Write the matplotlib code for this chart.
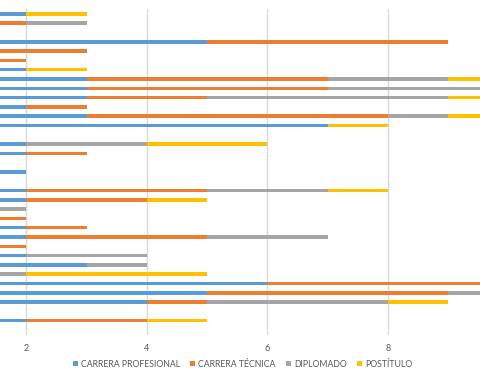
import matplotlib
matplotlib.use("Agg")
import matplotlib.pyplot as plt
from matplotlib.patches import Patch
import numpy as np

plt.rcParams['font.family'] = ['Lato', 'DejaVu Sans']

# rows top to bottom, 0 = empty row
profesional = [2, 0, 0, 5, 0, 0, 2, 3, 3, 3, 2, 3, 7, 0, 2, 2, 0, 2, 0, 2, 2, 0, 0, 2, 2, 0, 2, 3, 0, 6, 5, 4, 0, 2, 0]
tecnica     = [0, 2, 0, 4, 3, 2, 0, 4, 4, 2, 1, 5, 0, 0, 0, 1, 0, 0, 0, 3, 2, 0, 2, 1, 3, 2, 0, 0, 0, 4, 4, 1, 0, 2, 0]
diplomado   = [0, 1, 0, 0, 0, 0, 0, 2, 3, 4, 0, 1, 0, 0, 2, 0, 0, 0, 0, 2, 0, 2, 0, 0, 2, 0, 2, 1, 2, 0, 1, 3, 0, 0, 0]
postitulo   = [1, 0, 0, 0, 0, 0, 1, 1, 0, 1, 0, 1, 1, 0, 2, 0, 0, 0, 0, 1, 1, 0, 0, 0, 0, 0, 0, 0, 3, 0, 0, 1, 0, 1, 0]

series = ["CARRERA PROFESIONAL", "CARRERA TÉCNICA", "DIPLOMADO", "POSTÍTULO"]
colors = ["#5B9BD5", "#ED7D31", "#A5A5A5", "#FFC000"]

fig = plt.figure(figsize=(4.8, 3.8), dpi=100)
ax = fig.add_axes([0, 0.1195, 1, 0.856])

y = np.arange(len(profesional))
left = np.zeros(len(profesional))
for vals, c in zip([profesional, tecnica, diplomado, postitulo], colors):
    ax.barh(y, vals, left=left, height=0.38, color=c, zorder=3)
    left = left + np.array(vals)

ax.set_xlim(1.56, 9.53)
ax.set_ylim(len(profesional) - 0.5, -0.5)
ax.set_xticks([2, 4, 6, 8])
ax.set_yticks([])
ax.grid(axis='x', color='#D9D9D9', linewidth=1, zorder=0)
for s in ax.spines.values():
    s.set_visible(False)
ax.tick_params(axis='x', length=0, pad=7, labelsize=6.5, labelcolor='#595959')

handles = [Patch(facecolor=c, label=s) for s, c in zip(series, colors)]
fig.legend(handles=handles, loc='center', bbox_to_anchor=(0.505, 0.042), ncol=4,
           frameon=False, fontsize=6.3, handlelength=0.6, handleheight=0.6,
           handletextpad=0.3, columnspacing=1.2, labelcolor='#595959')

plt.savefig('out.png', dpi=100)
